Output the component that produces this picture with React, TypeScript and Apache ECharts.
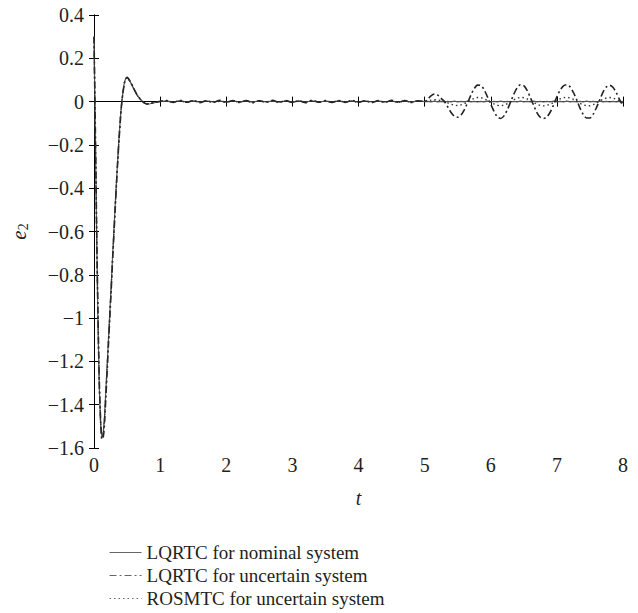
import React, { useEffect, useRef } from "react";
import * as echarts from "echarts";

// ---- Data ----
const tEarly = [0, 0.02, 0.04, 0.06, 0.08, 0.1, 0.12, 0.14, 0.16, 0.18, 0.2, 0.22, 0.24, 0.26, 0.28, 0.3, 0.32, 0.34, 0.36, 0.38, 0.4, 0.42, 0.44, 0.46, 0.48, 0.5, 0.52, 0.55, 0.6, 0.65, 0.7, 0.75, 0.8, 0.85, 0.9, 0.95, 1.0];
const nominalEarly = [0.3, -0.15, -0.62, -1.02, -1.32, -1.49, -1.55, -1.53, -1.45, -1.33, -1.21, -1.09, -0.97, -0.85, -0.72, -0.6, -0.48, -0.37, -0.26, -0.16, -0.07, 0.0, 0.05, 0.09, 0.107, 0.11, 0.105, 0.09, 0.06, 0.03, 0.01, -0.005, -0.012, -0.01, -0.006, -0.003, 0.0];
const uncertainEarly = [0.3, -0.12, -0.58, -0.98, -1.29, -1.47, -1.56, -1.55, -1.48, -1.36, -1.24, -1.11, -0.99, -0.87, -0.74, -0.62, -0.5, -0.38, -0.27, -0.17, -0.08, -0.005, 0.045, 0.085, 0.105, 0.112, 0.107, 0.092, 0.062, 0.032, 0.012, -0.004, -0.011, -0.009, -0.005, -0.002, 0.002];
const rosmtcEarly = [0.3, -0.14, -0.6, -1.0, -1.31, -1.48, -1.55, -1.54, -1.46, -1.34, -1.22, -1.1, -0.98, -0.86, -0.73, -0.61, -0.49, -0.375, -0.265, -0.165, -0.075, -0.002, 0.048, 0.088, 0.106, 0.111, 0.106, 0.091, 0.061, 0.031, 0.011, -0.004, -0.011, -0.009, -0.005, -0.003, 0.001];

const tMid = [1.1, 1.2, 1.3, 1.4, 1.5, 1.6, 1.7, 1.8, 1.9, 2.0, 2.1, 2.2, 2.3, 2.4, 2.5, 2.6, 2.7, 2.8, 2.9, 3.0, 3.1, 3.2, 3.3, 3.4, 3.5, 3.6, 3.7, 3.8, 3.9, 4.0, 4.1, 4.2, 4.3, 4.4, 4.5, 4.6, 4.7, 4.8, 4.9, 5.0];
const nominalMid = [0.003, -0.002, 0.004, -0.002, 0.003, -0.003, 0.004, -0.002, 0.003, -0.002, 0.004, -0.003, 0.003, -0.002, 0.004, -0.002, 0.003, -0.003, 0.004, -0.002, 0.003, -0.002, 0.004, -0.003, 0.003, -0.002, 0.004, -0.002, 0.003, -0.003, 0.004, -0.002, 0.003, -0.002, 0.004, -0.003, 0.003, -0.002, 0.003, 0.0];
const uncertainMid = [0.005, -0.004, 0.006, -0.003, 0.005, -0.005, 0.004, -0.004, 0.006, -0.003, 0.005, -0.004, 0.005, -0.005, 0.004, -0.003, 0.006, -0.004, 0.005, -0.004, 0.004, -0.005, 0.006, -0.003, 0.005, -0.004, 0.005, -0.004, 0.006, -0.003, 0.004, -0.005, 0.005, -0.004, 0.006, -0.003, 0.005, -0.004, 0.004, 0.0];
const rosmtcMid = [0.002, -0.004, 0.003, -0.003, 0.004, -0.002, 0.003, -0.004, 0.002, -0.003, 0.004, -0.003, 0.002, -0.004, 0.003, -0.002, 0.004, -0.003, 0.003, -0.004, 0.002, -0.003, 0.004, -0.002, 0.003, -0.004, 0.003, -0.003, 0.002, -0.004, 0.003, -0.002, 0.004, -0.003, 0.003, -0.004, 0.002, -0.003, 0.003, 0.0];

const tLate = [5.05, 5.1, 5.15, 5.2, 5.25, 5.3, 5.35, 5.4, 5.45, 5.5, 5.55, 5.6, 5.65, 5.7, 5.75, 5.8, 5.85, 5.9, 5.95, 6.0, 6.05, 6.1, 6.15, 6.2, 6.25, 6.3, 6.35, 6.4, 6.45, 6.5, 6.55, 6.6, 6.65, 6.7, 6.75, 6.8, 6.85, 6.9, 6.95, 7.0, 7.05, 7.1, 7.15, 7.2, 7.25, 7.3, 7.35, 7.4, 7.45, 7.5, 7.55, 7.6, 7.65, 7.7, 7.75, 7.8, 7.85, 7.9, 7.95, 8.0];
const nominalLate = [0.001, -0.001, 0.002, -0.001, 0.001, -0.002, 0.001, -0.001, 0.002, -0.001, 0.001, -0.001, 0.002, -0.001, 0.001, -0.002, 0.001, -0.001, 0.002, -0.001, 0.001, -0.001, 0.002, -0.001, 0.001, -0.002, 0.001, -0.001, 0.002, -0.001, 0.001, -0.001, 0.002, -0.001, 0.001, -0.002, 0.001, -0.001, 0.002, -0.001, 0.001, -0.001, 0.002, -0.001, 0.001, -0.002, 0.001, -0.001, 0.002, -0.001, 0.001, -0.001, 0.002, -0.001, 0.001, -0.002, 0.001, -0.001, 0.001, 0.0];
const uncertainLate = [0.012, 0.028, 0.035, 0.03, 0.015, 0.0, -0.025, -0.05, -0.067, -0.072, -0.062, -0.038, -0.005, 0.03, 0.06, 0.076, 0.074, 0.055, 0.022, -0.012, -0.045, -0.07, -0.078, -0.066, -0.038, -0.002, 0.035, 0.064, 0.078, 0.074, 0.052, 0.018, -0.018, -0.052, -0.073, -0.078, -0.07, -0.048, -0.015, 0.022, 0.053, 0.073, 0.078, 0.068, 0.042, 0.008, -0.03, -0.06, -0.076, -0.076, -0.058, -0.027, 0.01, 0.045, 0.068, 0.075, 0.065, 0.04, 0.008, -0.02];
const rosmtcLate = [0.003, 0.007, 0.009, 0.008, 0.004, 0.0, -0.006, -0.012, -0.017, -0.018, -0.015, -0.01, -0.001, 0.008, 0.015, 0.019, 0.018, 0.014, 0.005, -0.003, -0.011, -0.017, -0.02, -0.016, -0.01, 0.0, 0.009, 0.016, 0.02, 0.018, 0.013, 0.004, -0.004, -0.013, -0.018, -0.02, -0.017, -0.012, -0.004, 0.005, 0.013, 0.018, 0.02, 0.017, 0.01, 0.002, -0.008, -0.015, -0.019, -0.019, -0.014, -0.007, 0.003, 0.011, 0.017, 0.019, 0.016, 0.01, 0.002, -0.005];

const xTicks = [0, 1, 2, 3, 4, 5, 6, 7, 8];
const seriesNames = [
  "LQRTC for nominal system",
  "LQRTC for uncertain system",
  "ROSMTC for uncertain system",
];

const FONT = "'Liberation Serif', 'DejaVu Serif', serif";
const TEXT = "#231f20";

function pairs(ts: number[], vs: number[]) {
  return ts.map((t, i) => [t, vs[i]]);
}

export default function App() {
  const ref = useRef<HTMLDivElement>(null);
  useEffect(() => {
    if (!ref.current) return;
    const chart = echarts.init(ref.current, undefined, { renderer: "svg" });
    const allT = [...tEarly, ...tMid, ...tLate];
    const nominal = pairs(allT, [...nominalEarly, ...nominalMid, ...nominalLate]);
    const uncertain = pairs(allT, [...uncertainEarly, ...uncertainMid, ...uncertainLate]);
    const rosmtc = pairs(allT, [...rosmtcEarly, ...rosmtcMid, ...rosmtcLate]);

    const axisLine = { show: true, lineStyle: { color: "#000", width: 1 } };
    const tick = { show: true, inside: true, length: 5, lineStyle: { color: "#000", width: 1 } };

    chart.setOption({
      animation: false,
      backgroundColor: "#fff",
      grid: { left: 93, right: 15, top: 15, bottom: 165 },
      legend: {
        orient: "vertical",
        left: 104,
        top: 538,
        itemWidth: 32,
        itemHeight: 10,
        itemGap: 4,
        itemStyle: { opacity: 0 },
        lineStyle: { color: "#666", width: 1.1 },
        textStyle: { fontFamily: FONT, fontSize: 19, color: TEXT },
        data: seriesNames,
      },
      xAxis: [
        {
          type: "value",
          min: 0,
          max: 8,
          interval: 1,
          axisLine,
          axisTick: tick,
          splitLine: { show: false },
          axisLabel: {
            fontFamily: FONT,
            fontSize: 20,
            color: TEXT,
            margin: 7,
            formatter: (v: number) => (xTicks.includes(v) ? String(v) : ""),
          },
          name: "t",
          nameLocation: "middle",
          nameGap: 40,
          nameTextStyle: { fontFamily: FONT, fontSize: 20, fontStyle: "italic", color: TEXT },
        },
        {
          type: "value",
          position: "top",
          min: 0,
          max: 8,
          interval: 1,
          axisLine,
          axisTick: tick,
          axisLabel: { show: false },
          splitLine: { show: false },
        },
      ],
      yAxis: [
        {
          type: "value",
          min: -1.6,
          max: 0.4,
          interval: 0.2,
          axisLine,
          axisTick: tick,
          splitLine: { show: false },
          axisLabel: {
            fontFamily: FONT,
            fontSize: 20,
            color: TEXT,
            margin: 10,
            formatter: (v: number) => {
              const r = Math.round(v * 10) / 10;
              return r < 0 ? "\u2212" + String(-r) : String(r);
            },
          },
          name: "{e|e}{s|2}",
          nameLocation: "middle",
          nameGap: 64,
          nameRotate: 90,
          nameTextStyle: {
            rich: {
              e: { fontFamily: FONT, fontSize: 21, fontStyle: "italic", color: TEXT },
              s: { fontFamily: FONT, fontSize: 14, color: TEXT, verticalAlign: "bottom", padding: [9, 0, 0, 0] },
            },
          },
        },
        {
          type: "value",
          position: "right",
          min: -1.6,
          max: 0.4,
          interval: 0.2,
          axisLine,
          axisTick: tick,
          axisLabel: { show: false },
          splitLine: { show: false },
        },
      ],
      series: [
        {
          name: seriesNames[0],
          type: "line",
          data: nominal,
          symbol: "none",
          lineStyle: { color: "#555", width: 1.2, type: "solid" },
          itemStyle: { color: "#555" },
        },
        {
          name: seriesNames[1],
          type: "line",
          data: uncertain,
          symbol: "none",
          smooth: 0.3,
          lineStyle: { color: "#222", width: 1.6, type: [7, 3, 2, 3] },
          itemStyle: { color: "#222" },
        },
        {
          name: seriesNames[2],
          type: "line",
          data: rosmtc,
          symbol: "none",
          lineStyle: { color: "#333", width: 1.4, type: [1.5, 3] },
          itemStyle: { color: "#333" },
        },
      ],
    });
    return () => chart.dispose();
  }, []);
  return (
    <div
      ref={ref}
      style={{ position: "absolute", left: 0, top: 0, width: 638, height: 613, background: "#fff" }}
    />
  );
}
